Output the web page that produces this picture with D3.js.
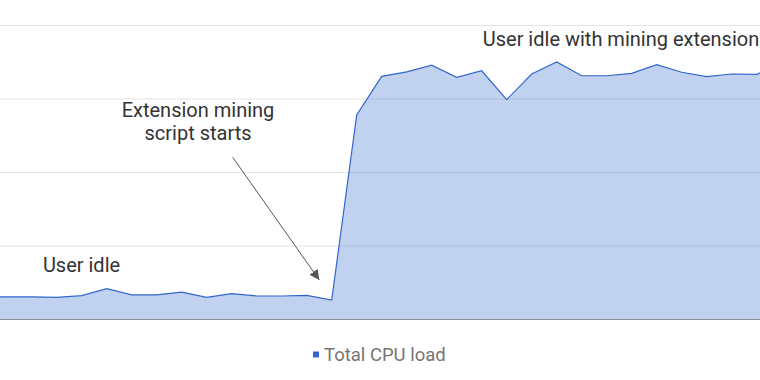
<!DOCTYPE html>
<html><head><meta charset="utf-8">
<script src="https://cdn.jsdelivr.net/npm/d3@7"></script>
<style>body{margin:0;background:#fff;}svg{display:block;font-family:Roboto,"Noto Sans",sans-serif;}</style>
</head><body>
<svg id="c" width="760" height="380"></svg>
<script>
// Sample index (time steps) and total CPU load (%)
const samples = d3.range(0, 33);
const cpuLoad = [7.6, 7.7, 7.7, 7.5, 8.1, 10.5, 8.4, 8.4, 9.3, 7.5, 8.8, 8.0, 8.0, 8.2, 6.6,
  69.6, 82.7, 84.2, 86.5, 82.4, 84.6, 74.8, 83.5, 87.6, 82.9, 82.9, 83.7, 86.7, 84.1, 82.6, 83.5, 83.4, 87.0];
const yTicks = [0, 25, 50, 75, 100];
const seriesName = "Total CPU load";
const annotations = [
  {lines: ["Extension mining", "script starts"], at: 14},
  {lines: ["User idle"], at: 3},
  {lines: ["User idle with mining extension"], at: 25}
];

const svg = d3.select("#c");
const x = d3.scaleLinear().domain([0, 32]).range([-18.3, 781.7]);
const y = d3.scaleLinear().domain([0, 100]).range([319.5, 25.5]);

// gridlines
svg.append("g").selectAll("line").data(yTicks.filter(t => t > 0)).join("line")
  .attr("x1", 0).attr("x2", 760)
  .attr("y1", d => y(d)).attr("y2", d => y(d))
  .attr("stroke", "#e3e3e3").attr("stroke-width", 1);

const data = samples.map((s, i) => ({s, v: cpuLoad[i]}));
svg.append("path").datum(data)
  .attr("d", d3.area().x(d => x(d.s)).y0(y(0)).y1(d => y(d.v)))
  .attr("fill", "#3366cc").attr("fill-opacity", 0.3);
svg.append("path").datum(data)
  .attr("d", d3.line().x(d => x(d.s)).y(d => y(d.v)))
  .attr("fill", "none").attr("stroke", "#3366cc").attr("stroke-width", 1.2);

// baseline
svg.append("line").attr("x1", 0).attr("x2", 760).attr("y1", y(0)).attr("y2", y(0))
  .attr("stroke", "#8a8f9c").attr("stroke-width", 1);

// annotations
const txt = (t, xx, yy, anchor) => svg.append("text").attr("x", xx).attr("y", yy)
  .attr("text-anchor", anchor || "middle").attr("font-size", 20).attr("fill", "#333").text(t);
txt(annotations[0].lines[0], 198, 116.5);
txt(annotations[0].lines[1], 198, 139.5);
txt(annotations[1].lines[0], 81.5, 271.5);
txt(annotations[2].lines[0], 621, 45.7);

// arrow
svg.append("defs").append("marker").attr("id", "ah")
  .attr("viewBox", "0 0 10 10").attr("refX", 10).attr("refY", 5)
  .attr("markerWidth", 10).attr("markerHeight", 10).attr("markerUnits", "userSpaceOnUse")
  .attr("orient", "auto")
  .append("path").attr("d", "M0,0L10,5L0,10z").attr("fill", "#555");
svg.append("line").attr("x1", 232.7).attr("y1", 157.3).attr("x2", 319.3).attr("y2", 280)
  .attr("stroke", "#555").attr("stroke-width", 1).attr("marker-end", "url(#ah)");

// legend
svg.append("rect").attr("x", 313).attr("y", 351.5).attr("width", 6).attr("height", 6).attr("fill", "#3366cc");
svg.append("text").attr("x", 324).attr("y", 360.7).attr("font-size", 18.5).attr("fill", "#757575").text(seriesName);
</script>
</body></html>
